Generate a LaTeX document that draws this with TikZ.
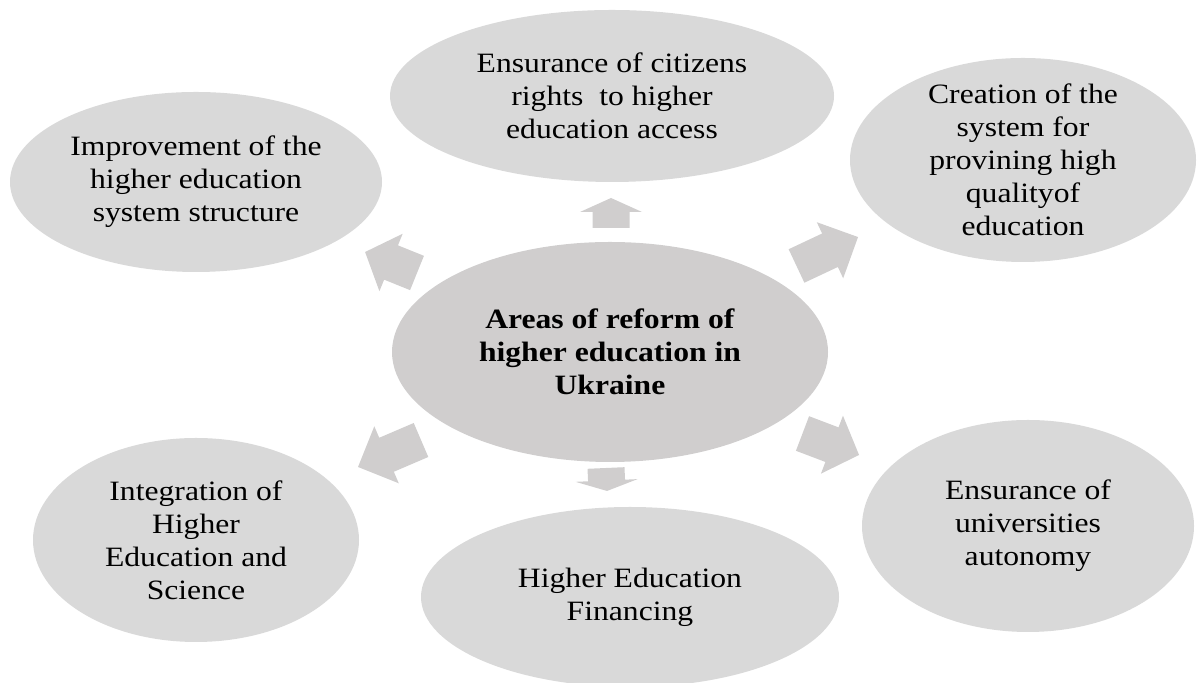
\documentclass[tikz,border=0pt]{standalone}
\usepackage{fontspec}
\setmainfont{Liberation Serif}[FakeStretch=1.13]
\usepackage{tikz}
\usetikzlibrary{shapes.geometric}
\definecolor{bub}{HTML}{D9D9D9}
\definecolor{hub}{HTML}{D0CECE}

\begin{document}
\begin{tikzpicture}[x=0.5pt, y=0.5pt,
			bubble/.style = {ellipse, fill=bub, draw=none, inner sep=0pt},
			centre/.style = {bubble, fill=hub},
			txt/.style = {align=center, inner sep=0pt, font=\fontsize{14}{16.5}\selectfont},
			spoke/.style = {fill=hub, draw=none},
			]
			\useasboundingbox (0,0) rectangle (1197,683);
			
			% hub and the six areas
			\node[centre, minimum width=218pt, minimum height=110pt] (hub) at (610,331) {};
			\node[bubble, minimum width=186pt, minimum height=90pt]  (impr) at (196,501) {};
			\node[bubble, minimum width=222pt, minimum height=86pt]  (acc)  at (612,587) {};
			\node[bubble, minimum width=173pt, minimum height=102pt] (qual) at (1023,523) {};
			\node[bubble, minimum width=163pt, minimum height=102pt] (integ) at (196,143) {};
			\node[bubble, minimum width=209pt, minimum height=90pt]  (fin)  at (630,86) {};
			\node[bubble, minimum width=166pt, minimum height=106pt] (auto) at (1028,157) {};
			
			\node[txt] (hubt) at (hub) {\textbf{Areas of reform of}\\\textbf{higher education in}\\\textbf{Ukraine}};
			\node[txt] (imprt) at (impr) {Improvement of the\\higher education\\system structure};
			\node[txt] (acct) at (acc) {Ensurance of citizens\\rights\ \ to higher\\education access};
			\node[txt] (qualt) at (qual.center) {Creation of the\\system for\\provining high\\qualityof\\education};
			\node[txt] (integt) at (integ) {Integration of\\Higher\\Education and\\Science};
			\node[txt] (fint) at (fin) {Higher Education\\Financing};
			\node[txt] (autot) at (auto) {Ensurance of\\universities\\autonomy};
			
			% block arrows: shaft end x/y, angle, length, head length
			\foreach \sx/\sy/\ang/\len/\hd in {417/410/158/56/28, 611/455/90/30/14,
				796.5/417/25.2/68/31, 421/243/203.2/68.5/31,
				802.5/249.5/-20.8/60.5/29, 606/215/-87.5/23/10.5}
			\fill[spoke, shift={(\sx,\sy)}, rotate=\ang]
			(0,-18.5) -- ({\len-\hd},-18.5) -- ({\len-\hd},-31) -- (\len,0)
			-- ({\len-\hd},31) -- ({\len-\hd},18.5) -- (0,18.5) -- cycle;
			
\end{tikzpicture}
\end{document}
